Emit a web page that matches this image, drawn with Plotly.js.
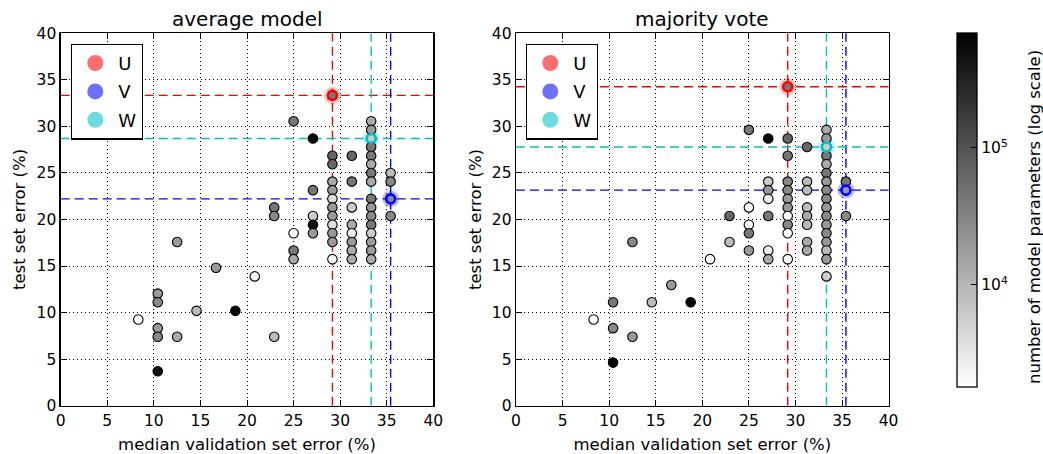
<!DOCTYPE html>
<html>
<head>
<meta charset="utf-8">
<script src="https://cdn.plot.ly/plotly-3.0.1.min.js"></script>
<style>html,body{margin:0;padding:0;background:#fff;}#chart{width:1043px;height:454px;}</style>
</head>
<body>
<div id="chart"></div>
<script>
// ---- data: average model ----
const avgX = [8.33,10.42,10.42,10.42,10.42,10.42,12.5,12.5,14.58,16.67,18.75,20.83,22.92,22.92,22.92,
  25,25,25,25,27.08,27.08,27.08,27.08,27.08,
  29.17,29.17,29.17,29.17,29.17,29.17,29.17,29.17,29.17,29.17,29.17,29.17,
  31.25,31.25,31.25,31.25,31.25,31.25,31.25,31.25,
  33.33,33.33,33.33,33.33,33.33,33.33,33.33,33.33,33.33,33.33,33.33,33.33,33.33,33.33,33.33,33.33,
  35.42,35.42,35.42,35.42];
const avgY = [9.26,12.04,11.11,8.33,7.41,3.70,17.59,7.41,10.19,14.81,10.19,13.89,21.30,20.37,7.41,
  30.56,18.52,16.67,15.74,28.70,23.15,20.37,19.44,18.52,
  33.33,26.85,25.93,24.07,23.15,22.22,21.30,20.37,19.44,18.52,17.59,15.74,
  26.85,24.07,21.30,19.44,18.52,17.59,16.67,15.74,
  30.56,29.63,28.70,27.78,26.85,25.93,25.00,24.07,22.22,21.30,20.37,19.44,18.52,17.59,16.67,15.74,
  25.00,24.07,22.22,20.37];
const avgParams = [1900,19500,29000,19500,29000,450000,19500,13000,8700,19500,600000,1900,43000,29000,8700,
  43000,1900,43000,13000,600000,43000,5900,450000,19500,
  43000,63000,63000,13000,19500,4000,19500,19500,4000,19500,19500,1900,
  63000,43000,5900,13000,2700,19500,13000,13000,
  13000,19500,5900,43000,43000,13000,43000,13000,43000,19500,29000,43000,5900,19500,19500,13000,
  8700,29000,29000,29000];
// ---- data: majority vote ----
const voteX = [8.33,10.42,10.42,10.42,12.5,12.5,14.58,16.67,18.75,20.83,22.92,22.92,
  25,25,25,25,25,27.08,27.08,27.08,27.08,27.08,27.08,27.08,
  29.17,29.17,29.17,29.17,29.17,29.17,29.17,29.17,29.17,29.17,29.17,
  31.25,31.25,31.25,31.25,31.25,31.25,31.25,31.25,
  33.33,33.33,33.33,33.33,33.33,33.33,33.33,33.33,33.33,33.33,33.33,33.33,33.33,33.33,33.33,33.33,33.33,
  35.42,35.42,35.42];
const voteY = [9.26,11.11,8.33,4.63,17.59,7.41,11.11,12.96,11.11,15.74,20.37,17.59,
  29.63,21.30,19.44,18.52,16.67,28.70,24.07,23.15,22.22,20.37,16.67,15.74,
  34.26,28.70,26.85,24.07,23.15,22.22,21.30,20.37,19.44,18.52,15.74,
  27.78,24.07,23.15,21.30,20.37,19.44,17.59,16.67,
  29.63,28.70,27.78,26.85,25.93,25.00,24.07,23.15,22.22,21.30,20.37,19.44,18.52,17.59,16.67,15.74,13.89,
  24.07,23.15,20.37];
const voteParams = [1900,43000,29000,600000,29000,19500,8700,19500,650000,1900,63000,8700,
  43000,1900,1900,43000,19500,650000,5900,19500,2700,43000,2700,13000,
  43000,63000,43000,29000,29000,19500,19500,1900,29000,1900,1900,
  63000,8700,8700,8700,13000,8700,13000,13000,
  13000,19500,5900,43000,13000,43000,19500,29000,29000,19500,29000,19500,29000,19500,8700,19500,5900,
  43000,19500,29000];
// ---- highlighted models U, V, W ----
const specialNames = ['U','V','W'];
const avgSpecialX = [29.17, 35.42, 33.33];
const avgSpecialY = [33.33, 22.22, 28.70];
const voteSpecialX = [29.17, 35.42, 33.33];
const voteSpecialY = [34.26, 23.15, 27.78];
const subplotTitles = ['average model', 'majority vote'];
const colorbarTicks = [4, 5];
const colorbarTickText = ['10<sup>4</sup>', '10<sup>5</sup>'];

const lineColors = ['#ff0000', '#0000ff', '#00bfbf'];
const rgb = ['255,0,0', '0,0,255', '0,191,191'];
const FONT = 'DejaVu Sans, sans-serif';
const TICK = 15.5, LABEL = 16.5, TITLE = 20;

const traces = [];
const shapes = [];
function addPanel(xs, ys, ps, sx, sy, xa, ya, legendId, prefix) {
  specialNames.forEach((n, i) => {
    traces.push({x: [sx[i]], y: [sy[i]], xaxis: xa, yaxis: ya, mode: 'markers', type: 'scatter',
      showlegend: false, hoverinfo: 'skip',
      marker: {size: 17, color: 'rgba(' + rgb[i] + ',0.25)', line: {width: 0}}});
  });
  traces.push({x: xs, y: ys, xaxis: xa, yaxis: ya, mode: 'markers', type: 'scatter', showlegend: false,
    marker: {size: 9.5, color: ps.map(p => Math.log10(p)), coloraxis: 'coloraxis',
      line: {color: '#000', width: 1.1}}});
  specialNames.forEach((n, i) => {
    traces.push({x: [sx[i]], y: [sy[i]], xaxis: xa, yaxis: ya, mode: 'markers', type: 'scatter',
      showlegend: false, hoverinfo: 'skip',
      marker: {size: 9, symbol: 'circle-open', color: lineColors[i], line: {width: 2.6, color: lineColors[i]}}});
    traces.push({x: [null], y: [null], xaxis: xa, yaxis: ya, mode: 'markers', type: 'scatter',
      name: n, legend: legendId, legendgroup: prefix + n, showlegend: true,
      marker: {size: 16, color: 'rgba(' + rgb[i] + ',0.57)', line: {width: 0}}});
    const xr = xa === 'x' ? 'x' : 'x2';
    const yr = ya === 'y' ? 'y' : 'y2';
    const dl = {color: lineColors[i], width: 1.4, dash: '9px,5px'};
    shapes.push({type: 'line', layer: 'below', xref: xr, yref: yr + ' domain', x0: sx[i], x1: sx[i], y0: 0, y1: 1, line: dl});
    shapes.push({type: 'line', layer: 'below', xref: xr + ' domain', yref: yr, x0: 0, x1: 1, y0: sy[i], y1: sy[i], line: dl});
  });
}
addPanel(avgX, avgY, avgParams, avgSpecialX, avgSpecialY, 'x', 'y', 'legend', 'a');
addPanel(voteX, voteY, voteParams, voteSpecialX, voteSpecialY, 'x2', 'y2', 'legend2', 'v');

function axisBase() {
  return {range: [0, 40], dtick: 5, tick0: 0,
    ticks: 'inside', ticklen: 6, tickwidth: 1, tickcolor: '#000',
    showline: true, linecolor: '#000', linewidth: 1.3, mirror: 'ticks',
    showgrid: true, gridcolor: '#000', gridwidth: 1, griddash: '1px,3px', zeroline: false,
    tickfont: {family: FONT, size: TICK, color: '#000'}};
}
function xaxis(dom, anchor) {
  return Object.assign(axisBase(), {domain: dom, anchor: anchor,
    title: {text: 'median validation set error (%)', font: {family: FONT, size: LABEL, color: '#000'}, standoff: 10}});
}
function yaxis(dom, anchor) {
  return Object.assign(axisBase(), {domain: dom, anchor: anchor,
    title: {text: 'test set error (%)', font: {family: FONT, size: LABEL, color: '#000'}, standoff: 6}});
}
const yDom = [48.3 / 454, 420.7 / 454];
const legendBase = {bgcolor: '#fff', bordercolor: '#000', borderwidth: 1.3, xanchor: 'left', yanchor: 'top',
  font: {family: FONT, size: 18, color: '#000'}, traceorder: 'grouped', tracegroupgap: 2, itemwidth: 36};

const annotations = subplotTitles.map((t, i) => ({text: t, xref: (i ? 'x2' : 'x') + ' domain', yref: (i ? 'y2' : 'y') + ' domain',
  x: 0.5, y: 1, xanchor: 'center', yanchor: 'bottom', yshift: 0, showarrow: false,
  font: {family: FONT, size: TITLE, color: '#000'}}));
annotations.push({text: 'number of model parameters (log scale)', xref: 'paper', yref: 'paper',
  x: 1034 / 1043, y: (454 - 217) / 454, xanchor: 'center', yanchor: 'middle', textangle: -90, showarrow: false,
  font: {family: FONT, size: LABEL, color: '#000'}});

const layout = {
  width: 1043, height: 454, margin: {l: 0, r: 0, t: 0, b: 0},
  paper_bgcolor: '#fff', plot_bgcolor: '#fff', showlegend: true,
  font: {family: FONT, color: '#000'},
  xaxis: xaxis([60.7 / 1043, 433.3 / 1043], 'y'),
  yaxis: yaxis(yDom, 'x'),
  xaxis2: xaxis([516 / 1043, 888.6 / 1043], 'y2'),
  yaxis2: yaxis(yDom, 'x2'),
  legend: Object.assign({}, legendBase, {x: 71 / 1043, y: (454 - 43.5) / 454}),
  legend2: Object.assign({}, legendBase, {x: 526 / 1043, y: (454 - 43.5) / 454}),
  coloraxis: {cmin: 3.257, cmax: 5.835, colorscale: [[0, '#ffffff'], [1, '#000000']],
    colorbar: {x: 957 / 1043, xanchor: 'left', xpad: 0, y: 67 / 454, yanchor: 'bottom', ypad: 0,
      len: 354 / 454, lenmode: 'fraction', thickness: 20, thicknessmode: 'pixels',
      outlinewidth: 1.3, outlinecolor: '#000',
      tickvals: colorbarTicks, ticktext: colorbarTickText, ticks: 'inside', ticklen: 6, tickcolor: '#000',
      tickfont: {family: FONT, size: TICK, color: '#000'}}},
  shapes: shapes,
  annotations: annotations
};
Plotly.newPlot('chart', traces, layout, {staticPlot: true, displayModeBar: false});
</script>
</body>
</html>
